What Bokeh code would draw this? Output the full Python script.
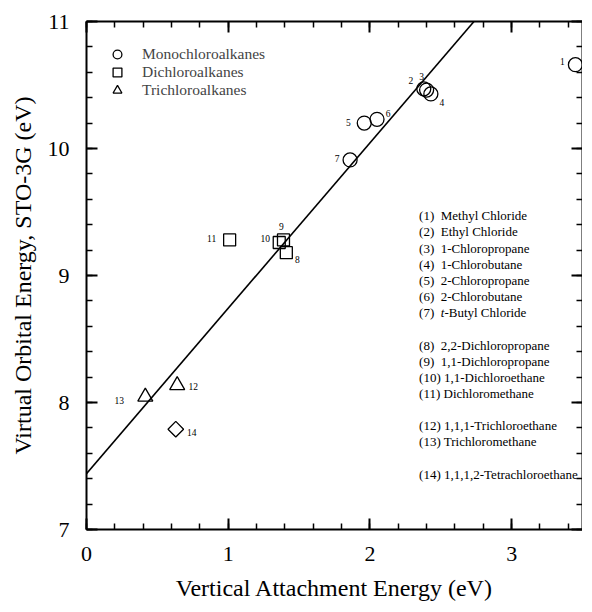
from bokeh.plotting import figure
from bokeh.models import (LinearAxis, Range1d, Slope, Legend, LegendItem,
                          ColumnDataSource, SingleIntervalTicker,
                          CustomJSTickFormatter)
from bokeh.embed import file_html
from bokeh.resources import INLINE
from bokeh.core.properties import value
import math

FONT = "Liberation Serif"

# ---------------- data ----------------
mono_id = [1, 2, 3, 4, 5, 6, 7]
mono_x = [3.45, 2.38, 2.40, 2.43, 1.96, 2.05, 1.86]
mono_y = [10.66, 10.47, 10.46, 10.43, 10.20, 10.23, 9.91]

di_id = [8, 9, 10, 11]
di_x = [1.41, 1.39, 1.36, 1.01]
di_y = [9.18, 9.28, 9.26, 9.28]

tri_id = [12, 13]
tri_x = [0.64, 0.415]
tri_y = [8.135, 8.045]

tetra_id = [14]
tetra_x = [0.63]
tetra_y = [7.79]

fit_slope = 1.302
fit_intercept = 7.44

x_range = (0, 3.5)
y_range = (7, 11)

legend_names = ["Monochloroalkanes", "Dichloroalkanes", "Trichloroalkanes"]

NB = "\u00a0"
compound_groups = [
    ["(1)" + NB * 2 + "Methyl Chloride", "(2)" + NB * 2 + "Ethyl Chloride",
     "(3)" + NB * 2 + "1-Chloropropane", "(4)" + NB * 2 + "1-Chlorobutane",
     "(5)" + NB * 2 + "2-Chloropropane", "(6)" + NB * 2 + "2-Chlorobutane",
     "(7)" + NB * 2 + "|t|-Butyl Chloride"],
    ["(8)" + NB * 2 + "2,2-Dichloropropane", "(9)" + NB * 2 + "1,1-Dichloropropane",
     "(10) 1,1-Dichloroethane", "(11) Dichloromethane"],
    ["(12) 1,1,1-Trichloroethane", "(13) Trichloromethane"],
    ["(14) 1,1,1,2-Tetrachloroethane"],
]

# label offsets (screen px) for point numbers
label_offsets = {1: (-13, -3), 2: (-13, -8), 3: (-5, -14), 4: (11, 9),
                 5: (-16, -1), 6: (11, -6), 7: (-13, -1), 8: (11, 7),
                 9: (-2, -13), 10: (-14, -4), 11: (-18, -1), 12: (16, 1),
                 13: (-26, 4), 14: (16, 3)}

# ---------------- figure ----------------
FW, FH = 496, 508
p = figure(frame_width=FW, frame_height=FH, output_backend="svg",
           toolbar_location=None,
           x_range=Range1d(*x_range), y_range=Range1d(*y_range),
           min_border_left=86, min_border_right=0, min_border_top=21,
           min_border_bottom=78)
p.outline_line_color = None
p.xgrid.visible = False
p.ygrid.visible = False
p.background_fill_color = "white"
p.border_fill_color = "white"


def style_axis(ax, labels=True):
    ax.ticker = SingleIntervalTicker(interval=1, num_minor_ticks=5)
    ax.axis_line_width = 2
    ax.axis_line_color = "black"
    ax.major_tick_in = 11
    ax.major_tick_out = 0
    ax.minor_tick_in = 6
    ax.minor_tick_out = 0
    ax.major_tick_line_width = 2
    ax.minor_tick_line_width = 1.5
    ax.major_tick_line_color = "black"
    ax.minor_tick_line_color = "black"
    if labels:
        ax.major_label_text_font = FONT
        ax.major_label_text_font_size = "22px"
        ax.major_label_text_color = "black"
        ax.axis_label_text_font = FONT
        ax.axis_label_text_font_size = "24px"
        ax.axis_label_text_font_style = "normal"
        ax.axis_label_text_color = "black"
    else:
        ax.formatter = CustomJSTickFormatter(code="return ''")
        ax.major_label_text_font_size = "10px"
        ax.major_label_standoff = 0
        ax.axis_label_standoff = 0


for ax in p.xaxis:
    style_axis(ax)
    ax.axis_label = "Vertical Attachment Energy (eV)"
    ax.major_label_standoff = 17
    ax.axis_label_standoff = 11
for ax in p.yaxis:
    style_axis(ax)
    ax.axis_label = "Virtual Orbital Energy, STO-3G (eV)"
    ax.major_label_standoff = 17
    ax.axis_label_standoff = 9
    ax.major_label_orientation = "horizontal"

top_ax = LinearAxis()
style_axis(top_ax, labels=False)
p.add_layout(top_ax, "above")
right_ax = LinearAxis()
style_axis(right_ax, labels=False)
p.add_layout(right_ax, "right")

# fit line
p.add_layout(Slope(gradient=fit_slope, y_intercept=fit_intercept,
                   line_color="black", line_width=1.6))

# points
lw = 1.3
r_mono = p.scatter(mono_x, mono_y, marker="circle", size=14, fill_color=None,
                   line_color="black", line_width=lw)
r_di = p.scatter(di_x, di_y, marker="square", size=12, fill_color=None,
                 line_color="black", line_width=lw)
r_tri = p.scatter(tri_x, tri_y, marker="triangle", size=15, fill_color=None,
                  line_color="black", line_width=lw)
r_tetra = p.scatter(tetra_x, tetra_y, marker="square", size=11,
                    angle=math.pi / 4, fill_color=None,
                    line_color="black", line_width=lw)

# point number labels
ids = mono_id + di_id + tri_id + tetra_id
lx = mono_x + di_x + tri_x + tetra_x
ly = mono_y + di_y + tri_y + tetra_y
src = ColumnDataSource(dict(x=lx, y=ly, t=[str(i) for i in ids],
                            xo=[label_offsets[i][0] for i in ids],
                            yo=[label_offsets[i][1] for i in ids]))
p.text(x="x", y="y", text="t", x_offset="xo", y_offset="yo", source=src,
       text_font=value(FONT), text_font_size="9.5px", text_align="center",
       text_baseline="middle", text_color="black")

# compound list (an italic segment is marked with |...|)
LIST_FS = 13
list_x0 = 2.347
row_top = 9.470
row_step = 0.1272
seg_x, seg_y, seg_t, seg_xo, seg_style = [], [], [], [], []
r = 0
for g in compound_groups:
    for n in g:
        yv = row_top - r * row_step
        parts = n.split("|")
        off = 0.0
        for k, part in enumerate(parts):
            if not part:
                continue
            seg_x.append(list_x0)
            seg_y.append(yv)
            seg_t.append(part)
            seg_xo.append(off)
            seg_style.append("italic" if k % 2 == 1 else "normal")
            off += (1.666 if k == 0 else 0.278) * LIST_FS
        r += 1
    r += 1
lsrc = ColumnDataSource(dict(x=seg_x, y=seg_y, t=seg_t, xo=seg_xo,
                             st=seg_style))
p.text(x="x", y="y", text="t", x_offset="xo", source=lsrc,
       text_font=value(FONT), text_font_style="st",
       text_font_size=f"{LIST_FS}px", text_align="left",
       text_baseline="middle", text_color="black")

# legend: one single-item legend per row so rows sit 18 px apart
rends = [r_mono, r_di, r_tri]
for i, (nm, rr) in enumerate(zip(legend_names, rends)):
    top_from_frame = 22 + i * 18.2
    lg = Legend(items=[LegendItem(label=nm, renderers=[rr])],
                location=(16, FH - top_from_frame - 22), margin=0, padding=0,
                glyph_width=30, glyph_height=22, label_height=22,
                label_standoff=10, label_text_font=FONT,
                label_text_font_size="15.5px", border_line_alpha=0,
                background_fill_alpha=0)
    p.add_layout(lg)

open("out.html", "w").write(file_html(p, INLINE))
